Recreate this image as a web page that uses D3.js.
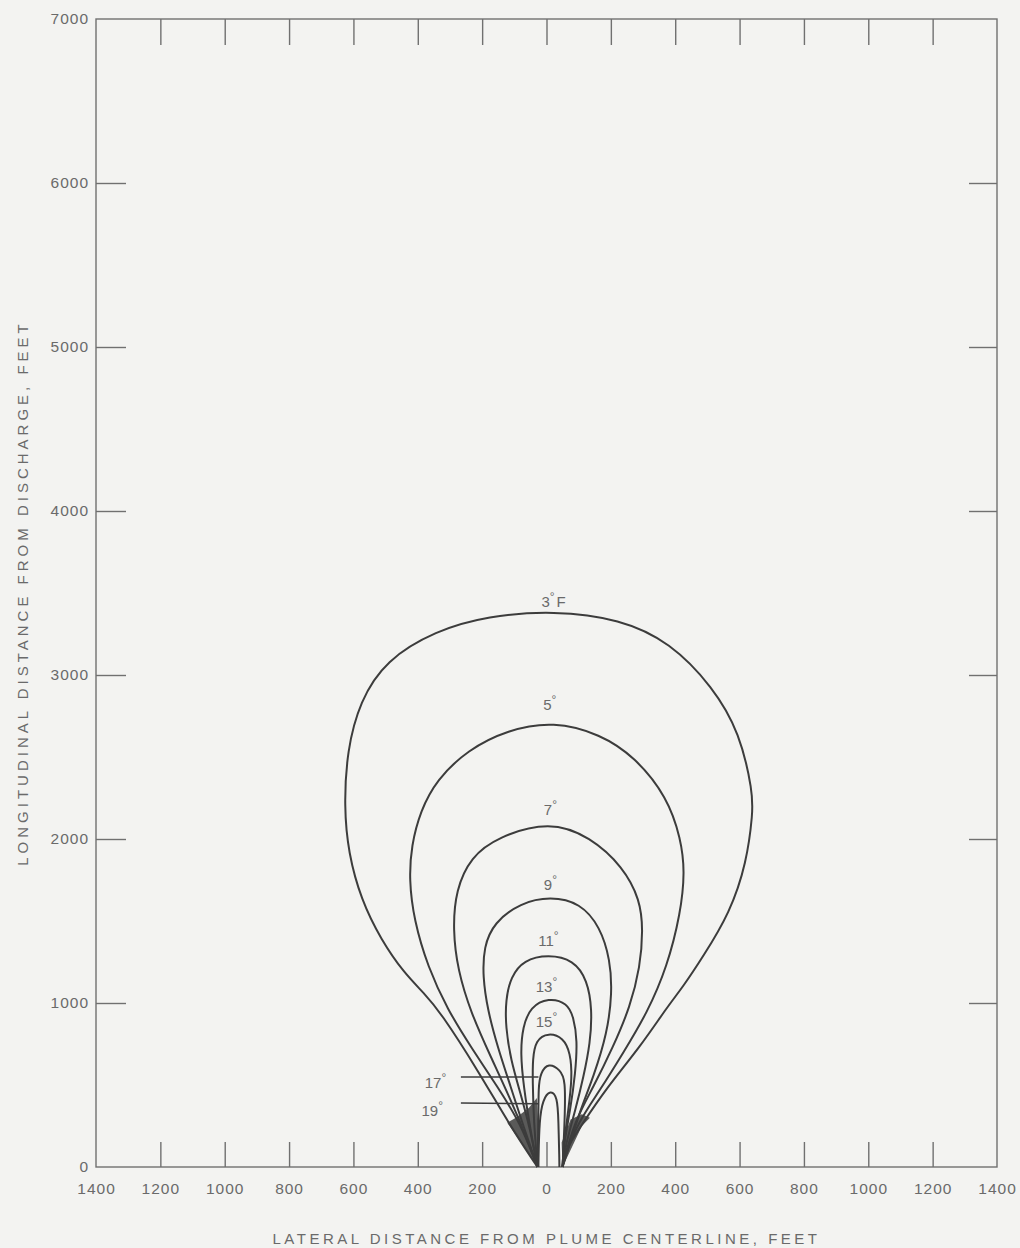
<!DOCTYPE html>
<html>
<head>
<meta charset="utf-8">
<script src="https://cdn.jsdelivr.net/npm/d3@7"></script>
<style>
  body { margin: 0; background: #f3f3f1; }
  svg { display: block; }
  text { font-family: "Liberation Sans", Arial, sans-serif; fill: #6a6a6a; }
</style>
</head>
<body>
<div id="chart"></div>
<script>
// isotherm contours, [lateral ft, longitudinal ft]
var contour3 = [[-28,0],[-111,244],[-214,592],[-328,940],[-381,1062],[-443,1184],[-514,1385],[-576,1629],[-616,1916],[-629,2196],[-620,2540],[-580,2840],[-500,3090],[-345,3270],[-183,3360],[22,3392],[229,3342],[384,3200],[517,2928],[601,2648],[641,2282],[641,2160],[622,1855],[570,1550],[486,1281],[424,1098],[375,976],[291,732],[189,488],[105,244],[53,85],[50,0]];
var contour5 = [[-28,0],[-81,268],[-152,488],[-235,732],[-307,958],[-369,1220],[-412,1507],[-427,1751],[-420,1960],[-392,2170],[-342,2360],[-245,2544],[-121,2666],[22,2718],[167,2640],[275,2500],[375,2257],[418,2000],[430,1800],[417,1550],[375,1220],[313,940],[238,695],[167,470],[96,268],[53,43],[50,0]];
var contour7 = [[-28,0],[-59,165],[-111,409],[-173,671],[-235,940],[-276,1202],[-291,1446],[-282,1690],[-235,1891],[-152,2013],[10,2110],[136,2013],[238,1830],[291,1629],[300,1446],[291,1220],[260,976],[207,732],[146,488],[84,268],[50,0]];
var contour9 = [[-28,0],[-71,244],[-111,488],[-152,732],[-183,958],[-198,1159],[-195,1342],[-164,1489],[-81,1611],[12,1650],[105,1611],[167,1464],[198,1263],[204,1062],[189,818],[146,549],[105,348],[74,146],[50,0]];
var contour11 = [[-28,0],[-50,226],[-81,451],[-111,653],[-127,854],[-127,1019],[-111,1159],[-71,1263],[6,1296],[84,1263],[127,1141],[142,958],[136,757],[115,549],[90,348],[59,134],[50,0]];
var contour13 = [[-28,0],[-50,226],[-71,488],[-81,695],[-74,854],[-50,976],[6,1033],[65,1000],[84,915],[96,775],[90,573],[74,348],[53,134],[50,0]];
var contour15 = [[-28,0],[-40,287],[-43,531],[-43,653],[-34,775],[6,820],[53,787],[74,696],[80,549],[68,348],[53,134],[50,0]];
var contour17 = [[-28,0],[-25,300],[-25,488],[-19,573],[6,637],[43,592],[59,531],[57,300],[50,0]];
var contour19 = [[-25,0],[-25,43],[-22,287],[-12,409],[12,472],[34,427],[37,287],[40,43],[40,0]];

var contours = [contour3, contour5, contour7, contour9, contour11, contour13, contour15, contour17, contour19];
var levelLabels = ["3", "5", "7", "9", "11", "13", "15", "17", "19"];
// label anchor positions [ft, ft]
var labelPos = [[22,3416],[10,2787],[12,2148],[12,1690],[6,1348],[0,1068],[0,854],[-345,482],[-355,311]];
// leader lines for 17 and 19 (from label to contour)
var leaders = [[[-266,549],[-25,549]], [[-266,390],[-25,385]]];
// dark convergence wedges near the outfall
var wedgeLeft = [[-28,0],[-122,270],[-95,300],[-55,360],[-30,420],[-24,200]];
var wedgeRight = [[50,0],[110,250],[135,300],[110,322],[75,290],[47,150]];

var xTicks = [-1400,-1200,-1000,-800,-600,-400,-200,0,200,400,600,800,1000,1200,1400];
var yTicks = [0,1000,2000,3000,4000,5000,6000,7000];

var W = 1020, H = 1248;
var margin = {top: 19, right: 23, bottom: 81, left: 96};
var width = W - margin.left - margin.right,
    height = H - margin.top - margin.bottom;

var svg = d3.select("#chart").append("svg")
    .attr("width", W)
    .attr("height", H);

svg.append("rect").attr("width", W).attr("height", H).attr("fill", "#f3f3f1");

var g = svg.append("g")
    .attr("transform", "translate(" + margin.left + "," + margin.top + ")");

var x = d3.scaleLinear().domain([-1400, 1400]).range([0, width]);
var y = d3.scaleLinear().domain([0, 7000]).range([height, 0]);

// frame
g.append("rect")
    .attr("width", width).attr("height", height)
    .attr("fill", "none").attr("stroke", "#707070").attr("stroke-width", 1.4);

var inner = xTicks.filter(function(d) { return Math.abs(d) < 1400; });
var innerY = yTicks.filter(function(d) { return d > 0 && d < 7000; });

var bottomAxis = g.append("g")
    .attr("transform", "translate(0," + height + ")")
    .call(d3.axisBottom(x).tickValues(xTicks).tickSize(-25).tickPadding(16)
      .tickFormat(function(d) { return Math.abs(d); }));
bottomAxis.selectAll(".tick line").filter(function(d) { return Math.abs(d) === 1400; }).remove();

g.append("g")
    .call(d3.axisTop(x).tickValues(inner).tickSize(-26).tickFormat(""));

var leftAxis = g.append("g")
    .call(d3.axisLeft(y).tickValues(yTicks).tickSize(-30).tickPadding(7).tickFormat(d3.format("d")));
leftAxis.selectAll(".tick line").filter(function(d) { return d === 0 || d === 7000; }).remove();

g.append("g")
    .attr("transform", "translate(" + width + ",0)")
    .call(d3.axisRight(y).tickValues(innerY).tickSize(-28).tickFormat(""));

g.selectAll(".domain").remove();
g.selectAll(".tick line").attr("stroke", "#707070").attr("stroke-width", 1.4);
g.selectAll(".tick text").attr("font-size", 15.5).attr("letter-spacing", 1)
    .style("fill", "#6a6a6a")
    .attr("font-family", "Liberation Sans, Arial, sans-serif");

// wedges
var poly = d3.line().x(function(d) { return x(d[0]); }).y(function(d) { return y(d[1]); });
g.selectAll(".wedge")
    .data([wedgeLeft, wedgeRight])
    .enter().append("path")
    .attr("class", "wedge")
    .attr("d", function(d) { return poly(d) + "Z"; })
    .attr("fill", "#333")
    .attr("opacity", 0.8);

var line = d3.line()
    .x(function(d) { return x(d[0]); })
    .y(function(d) { return y(d[1]); })
    .curve(d3.curveBasis);

g.selectAll(".contour")
    .data(contours)
    .enter().append("path")
    .attr("class", "contour")
    .attr("d", line)
    .attr("fill", "none")
    .attr("stroke", "#3c3c3c")
    .attr("stroke-width", 2);

g.selectAll(".leader")
    .data(leaders)
    .enter().append("path")
    .attr("class", "leader")
    .attr("d", poly)
    .attr("stroke", "#3c3c3c")
    .attr("stroke-width", 1.5);

// level labels
var lab = g.selectAll(".level")
    .data(levelLabels)
    .enter().append("text")
    .attr("class", "level")
    .attr("x", function(d, i) { return x(labelPos[i][0]); })
    .attr("y", function(d, i) { return y(labelPos[i][1]); })
    .attr("text-anchor", "middle")
    .attr("font-size", 15);
lab.append("tspan").text(function(d) { return d; });
lab.append("tspan").attr("dy", -6).attr("font-size", 12).text("\u00B0");
lab.filter(function(d, i) { return i === 0; })
    .append("tspan").attr("dy", 6).attr("dx", 2).text("F");

// axis titles
svg.append("text")
    .attr("x", margin.left + x(0))
    .attr("y", 1244)
    .attr("text-anchor", "middle")
    .attr("font-size", 15)
    .attr("letter-spacing", 3.5)
    .text("LATERAL DISTANCE FROM PLUME CENTERLINE, FEET");

svg.append("text")
    .attr("transform", "translate(28,593) rotate(-90)")
    .attr("text-anchor", "middle")
    .attr("font-size", 15)
    .attr("letter-spacing", 4)
    .text("LONGITUDINAL DISTANCE FROM DISCHARGE, FEET");
</script>
</body>
</html>
